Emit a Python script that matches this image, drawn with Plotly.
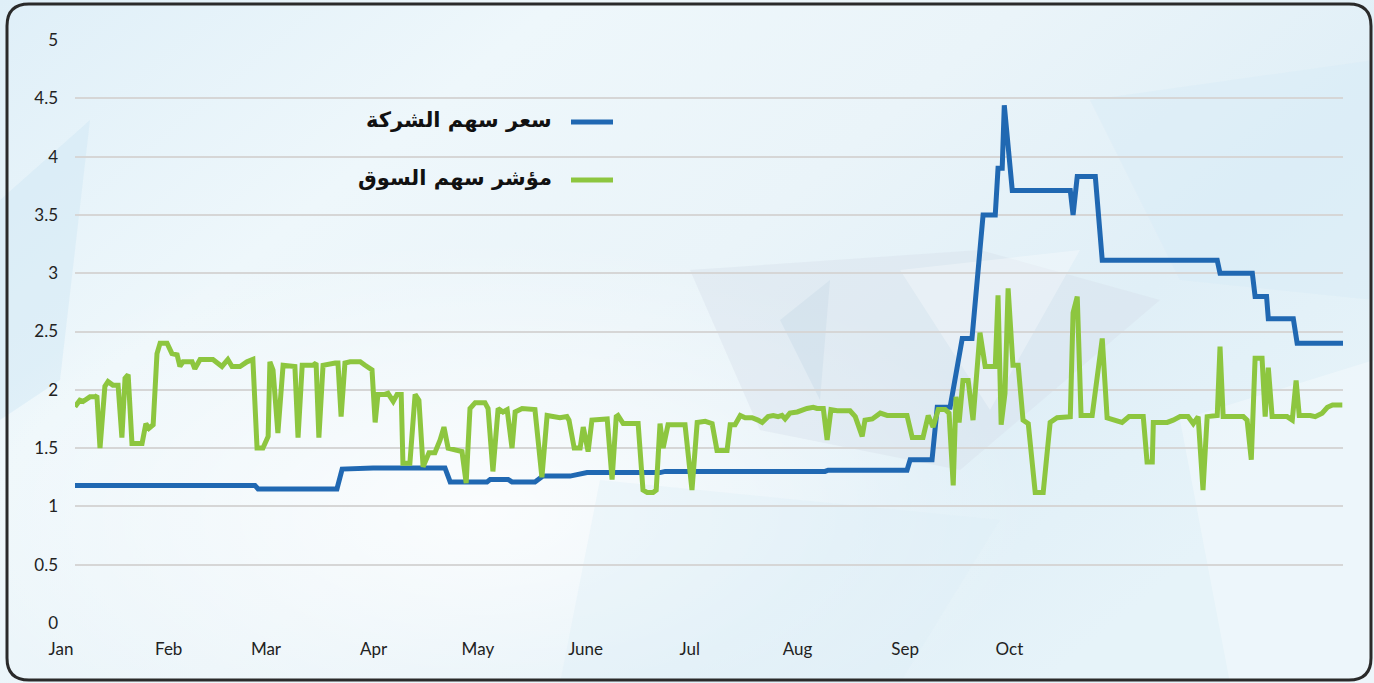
import base64
import plotly.graph_objects as go

# ---------------- data ----------------
month_labels = ["Jan", "Feb", "Mar", "Apr", "May", "June", "Jul", "Aug", "Sep", "Oct"]
month_start_day = [0, 31, 59, 90, 120, 151, 181, 212, 243, 273]

company_name = "سعر سهم الشركة"
market_name = "مؤشر سهم السوق"

company_day = [0, 51.8, 52.7, 75.4, 76.9, 85.8, 106.5, 108.0, 118.6, 119.5, 124.7, 125.8,
               132.4, 134.7, 142.5, 145.4, 147.4, 168.4, 169.9, 215.9, 216.8, 239.5, 240.4,
               246.7, 248.2, 251.9, 253.4, 255.4, 258.2, 261.4, 264.9, 265.7, 266.9, 267.5,
               269.8, 286.5, 287.3, 288.5, 293.7, 295.7, 328.8, 329.6, 338.9, 339.7, 343.0,
               343.5, 350.7, 351.8, 365]
company_price = [1.18, 1.18, 1.15, 1.15, 1.32, 1.33, 1.33, 1.21, 1.21, 1.23, 1.23, 1.21,
                 1.21, 1.26, 1.26, 1.28, 1.29, 1.29, 1.30, 1.30, 1.31, 1.31, 1.40,
                 1.40, 1.85, 1.85, 2.13, 2.44, 2.44, 3.50, 3.50, 3.90, 3.90, 4.44,
                 3.71, 3.71, 3.50, 3.83, 3.83, 3.11, 3.11, 3.00, 3.00, 2.80, 2.80,
                 2.61, 2.61, 2.40, 2.40]

market_day = [0, 1.4, 2.3, 4.3, 5.8, 6.3, 7.2, 8.6, 9.5, 10.9, 12.4, 13.5, 14.4, 15.3, 16.4,
              19.3, 20.4, 21.3, 22.5, 23.6, 24.5, 26.5, 27.9, 29.4, 30.2, 31.1, 33.7, 34.5,
              36.0, 39.7, 42.3, 44.0, 45.2, 47.5, 49.5, 51.2, 52.4, 54.1, 55.6, 56.1, 57.0,
              58.4, 59.9, 61.9, 63.3, 64.2, 65.4, 68.5, 69.4, 70.2, 71.4, 74.9, 75.7, 76.6,
              77.7, 79.2, 82.1, 83.5, 85.5, 86.4, 87.2, 89.2, 90.1, 91.6, 92.7, 93.9, 94.4,
              96.4, 97.9, 99.0, 100.2, 101.9, 103.6, 105.1, 106.2, 107.4, 110.3, 111.4, 112.6,
              113.7, 115.2, 118.0, 118.9, 120.3, 121.8, 123.2, 124.4, 125.8, 126.7, 128.7,
              132.4, 134.4, 135.9, 138.8, 139.6, 141.6, 142.2, 143.7, 145.4, 146.3, 147.7,
              148.8, 153.2, 154.6, 155.8, 156.3, 157.8, 162.1, 163.5, 164.7, 166.4, 167.3,
              168.4, 169.3, 170.7, 175.6, 177.6, 179.1, 181.4, 183.4, 184.8, 187.7, 188.6,
              190.0, 191.5, 192.9, 194.9, 196.6, 197.8, 199.5, 201.0, 202.4, 203.5, 204.4,
              205.8, 207.9, 209.3, 210.7, 212.5, 213.6, 215.4, 216.5, 217.6, 219.4, 223.1,
              224.6, 226.6, 227.4, 229.5, 231.8, 233.8, 237.5, 239.5, 241.0, 244.1, 245.6,
              247.0, 248.5, 250.5, 251.6, 252.8, 253.6, 254.5, 255.6, 257.1, 258.5, 260.5,
              262.0, 264.9, 265.7, 266.6, 267.7, 268.6, 270.0, 271.5, 272.9, 274.4, 276.4,
              278.7, 280.7, 282.7, 286.5, 287.3, 288.5, 289.6, 292.8, 295.7, 297.1, 300.0,
              301.4, 303.4, 307.5, 308.6, 310.1, 310.4, 314.4, 316.1, 318.1, 320.4, 321.9,
              323.3, 324.7, 325.9, 328.8, 329.6, 330.5, 336.3, 337.4, 338.6, 339.7, 341.7,
              342.6, 343.5, 344.6, 348.9, 350.4, 351.5, 352.4, 355.6, 357.0, 359.0, 360.5,
              362.0, 364.8]
market_index = [1.855, 1.91, 1.90, 1.94, 1.94, 1.95, 1.50, 2.03, 2.07, 2.04, 2.04, 1.59, 2.10, 2.13, 1.54,
                1.54, 1.71, 1.67, 1.70, 2.31, 2.40, 2.40, 2.31, 2.30, 2.20, 2.24, 2.24, 2.18,
                2.26, 2.26, 2.20, 2.26, 2.20, 2.20, 2.24, 2.26, 1.50, 1.50, 1.60, 2.24, 2.17,
                1.63, 2.21, 2.21, 2.20, 1.59, 2.21, 2.21, 2.23, 1.59, 2.21, 2.23, 2.23, 1.77,
                2.23, 2.24, 2.24, 2.21, 2.17, 1.72, 1.96, 1.96, 1.97, 1.90, 1.96, 1.96, 1.37,
                1.37, 1.96, 1.91, 1.34, 1.46, 1.46, 1.57, 1.68, 1.50, 1.48, 1.47, 1.20,
                1.84, 1.89, 1.89, 1.84, 1.30, 1.84, 1.81, 1.83, 1.50, 1.81, 1.84,
                1.83, 1.25, 1.78, 1.77, 1.76, 1.77, 1.74, 1.50, 1.50, 1.68, 1.47,
                1.74, 1.75, 1.23, 1.77, 1.78, 1.71, 1.71, 1.14, 1.12, 1.12, 1.14,
                1.71, 1.50, 1.70, 1.70, 1.14, 1.72, 1.73, 1.71, 1.48, 1.48, 1.70,
                1.70, 1.78, 1.76, 1.76, 1.74, 1.72, 1.77, 1.78, 1.77, 1.78, 1.75,
                1.80, 1.81, 1.83, 1.84, 1.85, 1.84, 1.84, 1.57, 1.83, 1.82, 1.82,
                1.77, 1.60, 1.74, 1.75, 1.80, 1.78, 1.78, 1.78, 1.59, 1.59, 1.78,
                1.68, 1.83, 1.83, 1.80, 1.18, 1.94, 1.72, 2.08, 2.08, 1.74, 2.49,
                2.20, 2.20, 2.81, 1.70, 1.97, 2.87, 2.21, 2.21, 1.74, 1.71, 1.12,
                1.12, 1.72, 1.76, 1.77, 2.66, 2.80, 1.78, 1.78, 2.44, 1.76, 1.74,
                1.72, 1.77, 1.77, 1.38, 1.38, 1.72, 1.72, 1.74, 1.77, 1.77, 1.71,
                1.77, 1.14, 1.77, 1.78, 2.37, 1.77, 1.77, 1.74, 1.40, 2.27, 2.27,
                1.77, 2.19, 1.77, 1.77, 1.74, 2.08, 1.78, 1.78, 1.77, 1.80, 1.85,
                1.87, 1.87]

# ---------------- layout geometry ----------------
W, H = 1374, 683
ML, MR, MT, MB = 75, 31, 40, 60
PW, PH = W - ML - MR, H - MT - MB


def px_x(px):
    return (px - ML) / PW


def px_y(py):
    return (H - MB - py) / PH


BLUE = "#2068b2"
GREEN = "#8dc63f"

fig = go.Figure()
fig.add_trace(go.Scatter(x=company_day, y=company_price, mode="lines", name=company_name,
                         line=dict(color=BLUE, width=5), showlegend=False))
fig.add_trace(go.Scatter(x=market_day, y=market_index, mode="lines", name=market_name,
                         line=dict(color=GREEN, width=5), showlegend=False))

# ---------------- background art ----------------
svg = f'''<svg xmlns="http://www.w3.org/2000/svg" width="{W}" height="{H}" viewBox="0 0 {W} {H}" preserveAspectRatio="none">
<defs>
<linearGradient id="g" x1="0" y1="0" x2="1" y2="0.6">
<stop offset="0" stop-color="#dfeff8"/>
<stop offset="0.3" stop-color="#eef7fb"/>
<stop offset="0.55" stop-color="#eaf4f9"/>
<stop offset="0.8" stop-color="#e0eff7"/>
<stop offset="1" stop-color="#e6f3f9"/>
</linearGradient>
<radialGradient id="w" cx="0.35" cy="0.75" r="0.4">
<stop offset="0" stop-color="#ffffff" stop-opacity="0.8"/>
<stop offset="1" stop-color="#ffffff" stop-opacity="0"/>
</radialGradient>
</defs>
<rect width="{W}" height="{H}" fill="url(#g)"/>
<rect width="{W}" height="{H}" fill="url(#w)"/>
<polygon points="0,200 90,120 60,380 0,420" fill="#cfe7f3" opacity="0.45"/>
<polygon points="690,270 980,250 1160,300 960,470 760,430" fill="#d3dde7" opacity="0.35"/>
<polygon points="780,320 830,280 820,400" fill="#c4d6e4" opacity="0.35"/>
<polygon points="900,270 1080,250 990,410" fill="#ffffff" opacity="0.3"/>
<polygon points="1090,100 1374,60 1374,300 1180,280" fill="#d8ecf6" opacity="0.45"/>
<polygon points="600,480 1000,520 900,683 560,683" fill="#dcedf6" opacity="0.35"/>
<polygon points="1180,420 1374,360 1374,683 1230,683" fill="#ffffff" opacity="0.3"/>
</svg>'''
svg_uri = "data:image/svg+xml;base64," + base64.b64encode(svg.encode()).decode()

fig.add_layout_image(dict(source=svg_uri, xref="paper", yref="paper",
                          x=px_x(0), y=px_y(0), sizex=W / PW, sizey=H / PH,
                          xanchor="left", yanchor="top", sizing="stretch", layer="below"))

# rounded border
x0, x1 = px_x(7), px_x(1371)
y0, y1 = px_y(4), px_y(680)
rx, ry = 22 / PW, 22 / PH
path = (f"M {x0+rx},{y0} L {x1-rx},{y0} Q {x1},{y0} {x1},{y0-ry} "
        f"L {x1},{y1+ry} Q {x1},{y1} {x1-rx},{y1} L {x0+rx},{y1} Q {x0},{y1} {x0},{y1+ry} "
        f"L {x0},{y0-ry} Q {x0},{y0} {x0+rx},{y0} Z")
fig.add_shape(type="path", path=path, xref="paper", yref="paper",
              line=dict(color="#2a2a2a", width=3), fillcolor="rgba(0,0,0,0)", layer="above")

# manual legend (line swatch to the right of Arabic text)
for name, color, ly in [(company_name, BLUE, 122), (market_name, GREEN, 180)]:
    fig.add_shape(type="line", xref="paper", yref="paper",
                  x0=px_x(571), x1=px_x(613), y0=px_y(ly), y1=px_y(ly),
                  line=dict(color=color, width=5))
    fig.add_annotation(text=f"<b>{name}</b>", xref="paper", yref="paper",
                       x=px_x(554), y=px_y(ly - 2), xanchor="right", yanchor="middle",
                       showarrow=False,
                       font=dict(family="DejaVu Sans", size=21, color="#111111"))

fig.update_layout(
    width=W, height=H,
    margin=dict(l=ML, r=MR, t=MT, b=MB, autoexpand=False),
    paper_bgcolor="#eaf4f9",
    plot_bgcolor="rgba(0,0,0,0)",
    showlegend=False,
    font=dict(family="Lato", size=16, color="#222222"),
)
fig.update_xaxes(
    range=[0, 365], tickmode="array", tickvals=month_start_day, ticktext=month_labels,
    showgrid=False, zeroline=False, showline=False, ticks="",
    ticklabelshift=-14, ticklabelstandoff=14,
    tickfont=dict(family="Lato", size=17, color="#222222"),
)
fig.update_yaxes(
    range=[0, 5], dtick=0.5, tick0=0, showgrid=True, gridcolor="#d6d6d6", gridwidth=2,
    zeroline=False, showline=False, ticks="", ticklabelstandoff=16,
    tickfont=dict(family="Lato", size=17, color="#222222"),
)

fig.write_html("out.html", config={"displayModeBar": False},
               post_script="document.body.style.margin='0';document.body.style.overflow='hidden';")
